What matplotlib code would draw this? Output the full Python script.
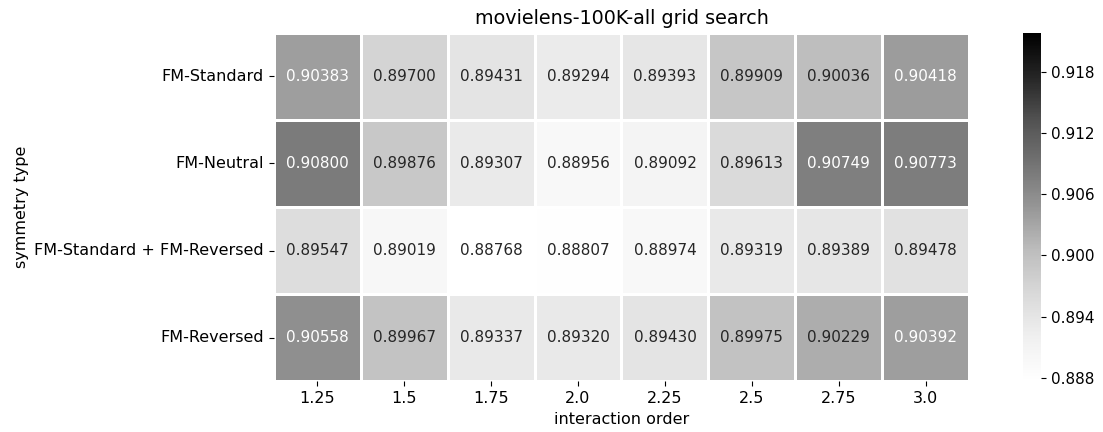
import matplotlib
matplotlib.use("Agg")
import matplotlib.pyplot as plt
import numpy as np
import pandas as pd
import seaborn as sns

# grid search results (RMSE) on movielens-100K
orders = ["1.25", "1.5", "1.75", "2.0", "2.25", "2.5", "2.75", "3.0"]
symmetry_types = ["FM-Standard", "FM-Neutral", "FM-Standard + FM-Reversed", "FM-Reversed"]

fm_standard = [0.90383, 0.89700, 0.89431, 0.89294, 0.89393, 0.89909, 0.90036, 0.90418]
fm_neutral = [0.90800, 0.89876, 0.89307, 0.88956, 0.89092, 0.89613, 0.90749, 0.90773]
fm_std_rev = [0.89547, 0.89019, 0.88768, 0.88807, 0.88974, 0.89319, 0.89389, 0.89478]
fm_reversed = [0.90558, 0.89967, 0.89337, 0.89320, 0.89430, 0.89975, 0.90229, 0.90392]

cbar_ticks = [0.888, 0.894, 0.900, 0.906, 0.912, 0.918]

df = pd.DataFrame([fm_standard, fm_neutral, fm_std_rev, fm_reversed],
                  index=symmetry_types, columns=orders)

fig = plt.figure(figsize=(11.03, 4.32), dpi=100)
ax = fig.add_axes([0.2482, 0.1175, 0.6305, 0.8067])
cax = fig.add_axes([0.9275, 0.1175, 0.0163, 0.8067])

sns.heatmap(df, ax=ax, cbar_ax=cax, cmap="Greys", annot=True, fmt=".5f",
            annot_kws={"fontsize": 11},
            vmin=0.88768, vmax=0.9218, linewidths=1.8, linecolor="white")
cax.set_yticks(cbar_ticks)
cax.tick_params(labelsize=11)

ax.set_title("movielens-100K-all grid search", fontsize=13.8)
ax.set_xlabel("interaction order", fontsize=11.5)
ax.set_ylabel("symmetry type", fontsize=11.5)
ax.tick_params(axis="y", rotation=0, labelsize=11.5)
ax.tick_params(axis="x", rotation=0, labelsize=11.5)

plt.savefig("out.png", dpi=100)
